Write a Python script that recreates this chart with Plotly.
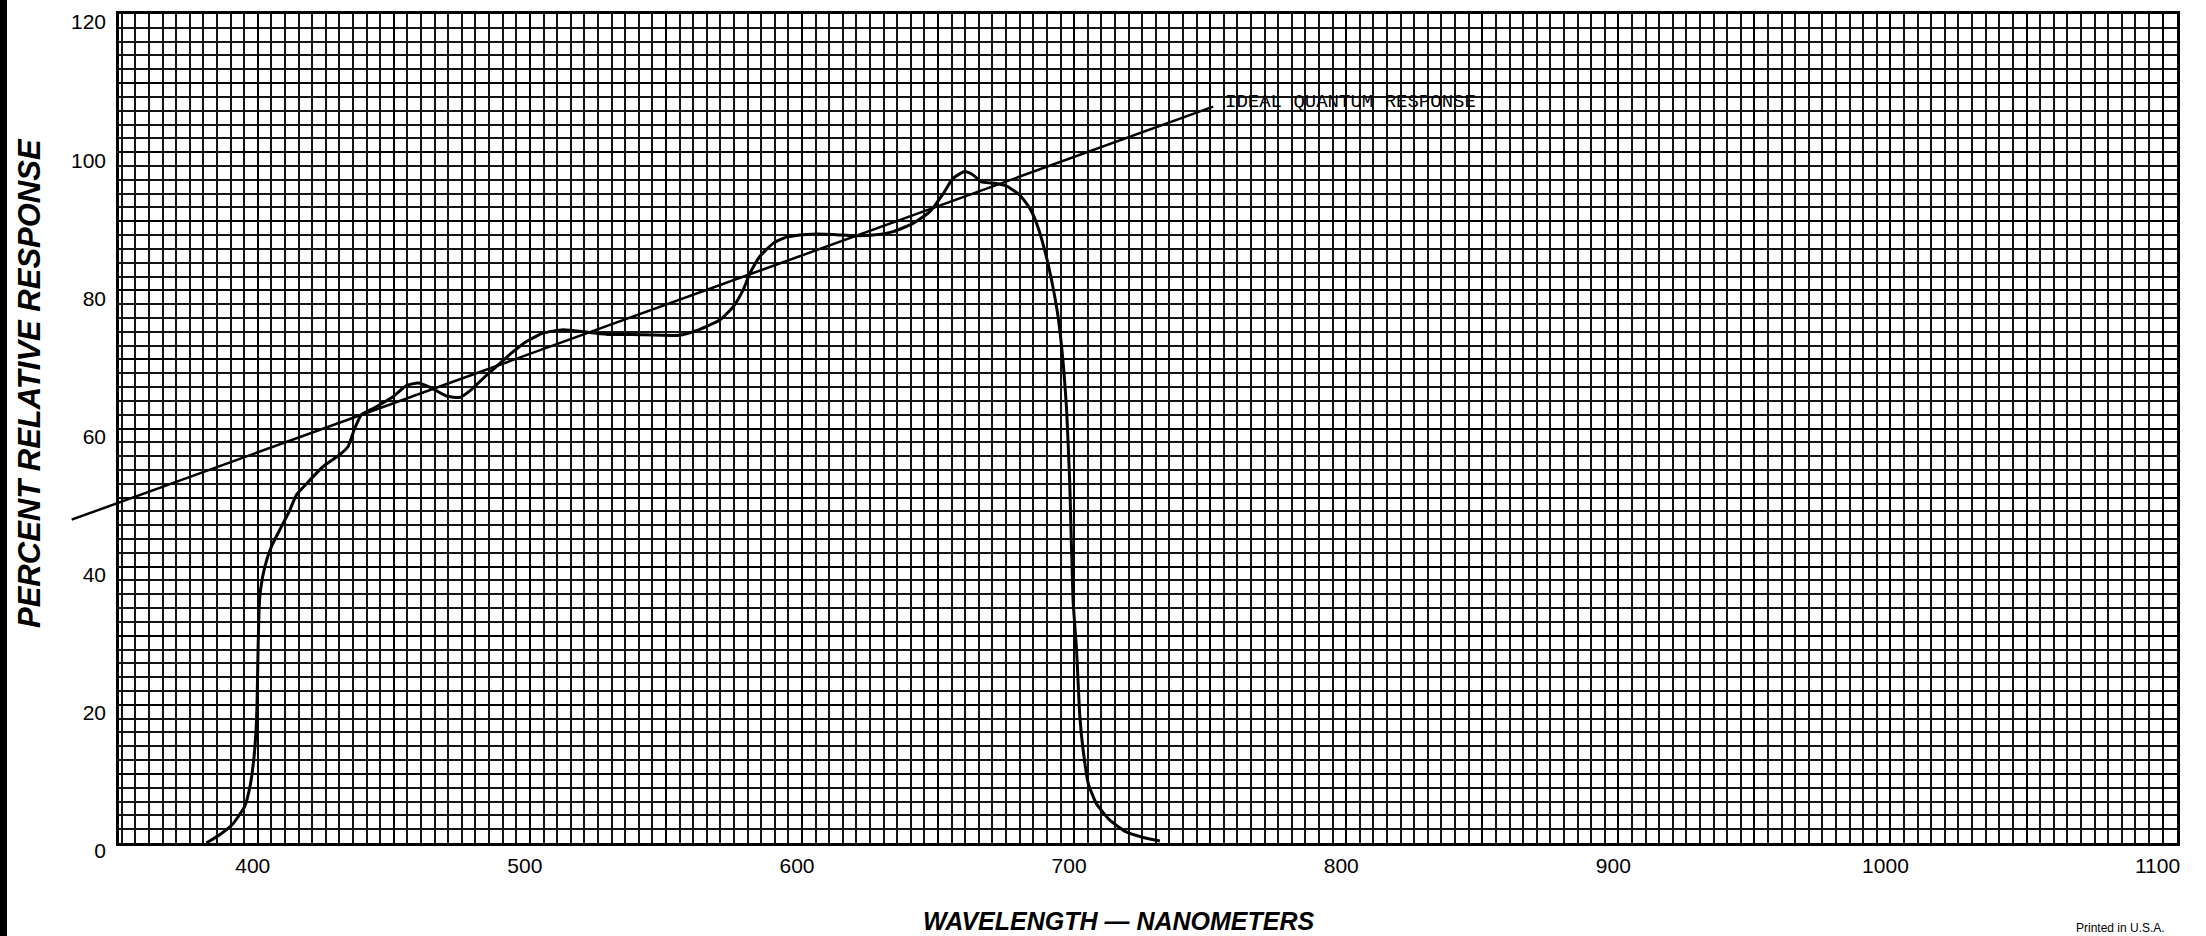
import plotly.graph_objects as go

# ---------------- data ----------------
wavelength_nm = [381.1, 386.0, 390.9, 395.2, 397.1, 398.5, 399.3, 399.7, 400.1, 400.5,
                 401.0, 402.6, 405.0, 408.7, 411.8, 414.2, 419.1, 424.0, 430.1, 433.2,
                 435.6, 438.1, 442.4, 449.7, 454.6, 458.9, 463.2, 469.3, 474.2, 478.4,
                 484.0, 488.9, 493.2, 498.7, 504.8, 512.2, 522.0, 529.4, 537.9, 555.1,
                 560.0, 565.0, 569.8, 574.7, 578.4, 580.8, 584.5, 589.4, 594.3, 601.6,
                 611.4, 618.8, 626.1, 633.5, 640.8, 647.0, 651.9, 655.5, 659.8, 662.9,
                 665.9, 670.9, 675.2, 680.0, 683.7, 686.2, 689.2, 691.7, 694.1, 696.0,
                 697.2, 698.4, 699.6, 700.9, 702.1, 703.3, 705.2, 708.2, 713.1, 719.2,
                 725.4, 731.5]
relative_response = [0.0, 1.2, 2.8, 5.3, 8.1, 12.0, 15.9, 19.7, 27.9, 34.0,
                     36.6, 40.0, 42.9, 45.8, 48.2, 50.4, 52.5, 54.5, 56.2, 57.4,
                     60.0, 62.0, 62.9, 64.6, 66.2, 66.6, 66.0, 64.7, 64.5, 65.6,
                     67.7, 69.4, 70.9, 72.6, 73.8, 74.3, 73.9, 73.6, 73.6, 73.5,
                     74.0, 74.8, 75.7, 77.6, 80.1, 82.4, 84.9, 86.8, 87.7, 88.1,
                     88.1, 87.9, 88.0, 88.5, 89.7, 91.4, 94.0, 96.2, 97.2, 96.7,
                     95.7, 95.5, 95.1, 93.8, 91.9, 89.7, 85.8, 81.5, 76.2, 69.4,
                     63.0, 52.0, 35.2, 27.9, 18.3, 13.5, 8.6, 5.7, 3.3, 1.6,
                     0.8, 0.3]

ideal_wavelength_nm = [331.6, 751.1]
ideal_response = [46.8, 106.6]
ideal_label = "IDEAL QUANTUM RESPONSE"
ideal_label_pos = (754.6, 107.2)

x_tick_values = [400, 450, 500, 550, 600, 650, 700, 750, 800, 850, 900, 950, 1000, 1050, 1100]
x_tick_labels = ["400", "", "500", "", "600", "", "700", "", "800", "", "900", "", "1000", "", "1100"]
y_tick_values = [0, 10, 20, 30, 40, 50, 60, 70, 80, 90, 100, 110, 120]
y_tick_labels = ["0", "", "20", "", "40", "", "60", "", "80", "", "100", "", "120"]

x_title = "WAVELENGTH \u2014 NANOMETERS"
y_title = "PERCENT RELATIVE RESPONSE"
footer = "Printed in U.S.A."

# ---------------- layout geometry ----------------
FIG_W, FIG_H = 2206, 936
M_L, M_R, M_T, M_B = 0, 29, 14, 93
PAPER_W = FIG_W - M_L - M_R
PAPER_H = FIG_H - M_T - M_B
PLOT_LEFT_PX = 119
X_RANGE = [349.0, 1105.3]
px_per_nm = (PAPER_W - PLOT_LEFT_PX) / (X_RANGE[1] - X_RANGE[0])
X2_RANGE = [X_RANGE[0] - PLOT_LEFT_PX / px_per_nm, X_RANGE[1]]

def px_x(px):
    return px / PAPER_W

def px_y(py_from_top):
    # pixel y (figure coords) -> paper y
    return (FIG_H - M_B - py_from_top) / PAPER_H

FONT = "Liberation Sans, Arial, sans-serif"
GRID_MAJOR = "#000000"
GRID_MINOR = "#141414"

fig = go.Figure()

fig.add_trace(go.Scatter(
    x=wavelength_nm, y=relative_response, mode="lines",
    line=dict(color="black", width=3, shape="spline", smoothing=0.5),
    xaxis="x", yaxis="y", showlegend=False, hoverinfo="x+y"))

fig.add_trace(go.Scatter(
    x=ideal_wavelength_nm, y=ideal_response, mode="lines",
    line=dict(color="black", width=2.5),
    xaxis="x2", yaxis="y2", showlegend=False, hoverinfo="skip"))

fig.update_layout(
    width=FIG_W, height=FIG_H,
    margin=dict(l=M_L, r=M_R, t=M_T, b=M_B, pad=0),
    paper_bgcolor="white", plot_bgcolor="rgba(0,0,0,0)",
    showlegend=False,
    font=dict(family=FONT, color="black"),
    xaxis=dict(
        domain=[PLOT_LEFT_PX / PAPER_W, 1], range=X_RANGE, anchor="y",
        tickmode="array", tickvals=x_tick_values, ticktext=x_tick_labels,
        ticks="", ticklabelstandoff=2, ticklabelshift=-5, ticklabeloverflow="allow",
        tickfont=dict(family=FONT, size=21, color="black"),
        showgrid=True, gridcolor=GRID_MAJOR, gridwidth=2.1,
        minor=dict(tick0=0, dtick=5, showgrid=True, gridcolor=GRID_MINOR, gridwidth=1.5, ticks=""),
        showline=True, linecolor="black", linewidth=2.5, mirror=True,
        zeroline=False, fixedrange=True),
    yaxis=dict(
        domain=[0, 1], range=[0, 120.001], anchor="x",
        tickmode="array", tickvals=y_tick_values, ticktext=y_tick_labels,
        ticks="", ticklabelstandoff=6, ticklabelshift=8, ticklabeloverflow="allow",
        tickfont=dict(family=FONT, size=21, color="black"),
        showgrid=True, gridcolor=GRID_MAJOR, gridwidth=2.1,
        minor=dict(tick0=0, dtick=2, showgrid=True, gridcolor=GRID_MINOR, gridwidth=1.5, ticks=""),
        showline=True, linecolor="black", linewidth=2.5, mirror=True,
        zeroline=False, fixedrange=True),
    xaxis2=dict(domain=[0, 1], range=X2_RANGE, anchor="y2", visible=False, fixedrange=True),
    yaxis2=dict(domain=[0, 1], range=[0, 120.001], anchor="x2", visible=False, fixedrange=True),
)

fig.add_annotation(
    x=ideal_label_pos[0], y=ideal_label_pos[1], xref="x", yref="y",
    text=ideal_label, showarrow=False, xanchor="left", yanchor="middle",
    font=dict(family="Liberation Mono, Courier New, monospace", size=19, color="black"))

fig.add_annotation(
    x=px_x(1119), y=px_y(921), xref="paper", yref="paper",
    text=x_title, showarrow=False, xanchor="center", yanchor="middle",
    font=dict(family=FONT, size=25, color="black", weight="bold", style="italic"))

fig.add_annotation(
    x=px_x(29), y=px_y(383), xref="paper", yref="paper",
    text=y_title, showarrow=False, textangle=-90, xanchor="center", yanchor="middle",
    font=dict(family=FONT, size=31, color="black", weight="bold", style="italic"))

fig.add_annotation(
    x=px_x(2120), y=px_y(928), xref="paper", yref="paper",
    text=footer, showarrow=False, xanchor="center", yanchor="middle",
    font=dict(family=FONT, size=12, color="black"))

# scanner edge at the far left of the sheet
fig.add_shape(type="rect", xref="paper", yref="paper",
              x0=0, x1=px_x(7), y0=px_y(FIG_H), y1=px_y(0),
              fillcolor="black", line=dict(width=0), layer="above")

fig.write_html(
    "out.html",
    config={"displayModeBar": False},
    post_script="document.body.style.margin='0px';document.body.style.overflow='hidden';")
